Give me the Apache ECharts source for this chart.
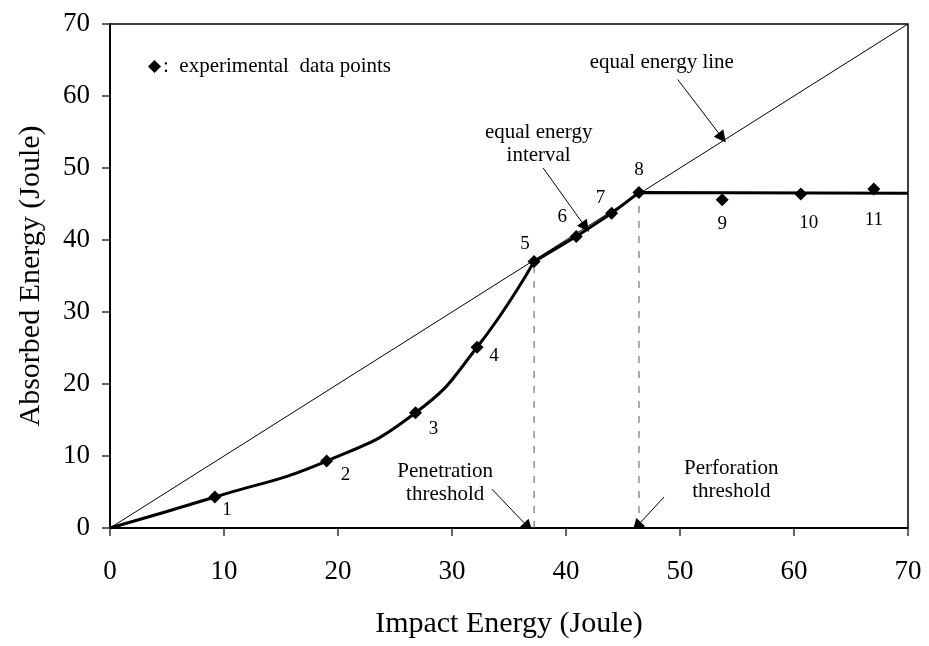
<!DOCTYPE html>
<html>
<head>
<meta charset="utf-8">
<script src="https://cdn.jsdelivr.net/npm/echarts@6/dist/echarts.min.js"></script>
<style>
  html, body { margin: 0; padding: 0; background: #fff; }
  #chart { width: 929px; height: 646px; }
</style>
</head>
<body>
<div id="chart"></div>
<script>
// Impact vs absorbed energy, specimens 1..11
const impactEnergy   = [9.2, 19.0, 26.8, 32.2, 37.2, 40.9, 44.0, 46.4, 53.7, 60.6, 67.0];
const absorbedEnergy = [4.3, 9.3, 16.0, 25.1, 37.0, 40.5, 43.7, 46.6, 45.6, 46.4, 47.1];
const specimenLabels = ['1', '2', '3', '4', '5', '6', '7', '8', '9', '10', '11'];

// absorbed energy level once the plate is perforated
const plateauEnergy = 46.5;
// index of the specimens at the penetration and perforation thresholds
const penetrationIndex = 4;
const perforationIndex = 7;

const axisMin = 0;
const axisMax = 70;
const axisStep = 10;

// text notes and their pointer arrows, in data units
const noteTexts = ['equal energy line', 'equal energy\ninterval', 'Penetration\nthreshold', 'Perforation\nthreshold'];
const notePositions = [[48.4, 64.7], [37.6, 53.4], [29.4, 6.3], [54.5, 6.6]];
const arrowStarts = [[49.8, 62.3], [38.0, 50.0], [33.5, 5.4], [48.6, 4.3]];
const arrowEnds   = [[53.7, 54.2], [41.7, 41.8], [36.7, 0.1], [46.2, 0.2]];

// label placement around each marker (pixels)
const labelOffsets = [[12, 13], [19, 14], [18, 16], [17, 9], [-9, -18], [-14, -19],
                      [-11, -15], [0, -22], [0, 24], [8, 29], [0, 31]];

const FONT = 'Liberation Serif';

const points = impactEnergy.map((x, i) => [x, absorbedEnergy[i]]);

// smooth rise up to penetration
const risingCurve = [[0, 0]].concat(points.slice(0, penetrationIndex + 1));
// straight run along the equal energy line, then flat plateau
const upperCurve = points.slice(penetrationIndex, perforationIndex + 1)
  .concat([[axisMax, plateauEnergy]]);

const dropLines = [penetrationIndex, perforationIndex].map(i => ({
  type: 'line',
  data: [[impactEnergy[i], 0], [impactEnergy[i], absorbedEnergy[i]]],
  symbol: 'none',
  silent: true,
  z: 2,
  lineStyle: { color: '#555', width: 1, type: [7, 8] }
}));

const chart = echarts.init(document.getElementById('chart'), null, { renderer: 'canvas' });

const axisCommon = {
  type: 'value',
  min: axisMin,
  max: axisMax,
  interval: axisStep,
  nameLocation: 'middle',
  nameTextStyle: { fontFamily: FONT, fontSize: 30, color: '#000' },
  axisLine: { onZero: false, lineStyle: { color: '#000', width: 2 } },
  axisTick: { show: true, inside: false, length: 8, lineStyle: { color: '#333', width: 1.5 } },
  splitLine: { show: false },
  axisLabel: { fontFamily: FONT, fontSize: 27, color: '#000' }
};

chart.setOption({
  animation: false,
  backgroundColor: '#fff',
  textStyle: { fontFamily: FONT },
  grid: {
    left: 110, right: 21, top: 24, bottom: 118,
    show: true, borderColor: '#000', borderWidth: 1.5, backgroundColor: 'transparent'
  },
  legend: {
    left: 143, top: 51,
    data: [{ name: 'experimental data points', icon: 'diamond' }],
    itemWidth: 13, itemHeight: 13, itemGap: 6,
    formatter: () => ':  experimental  data points',
    textStyle: { fontFamily: FONT, fontSize: 21, color: '#000', padding: [0, 0, 0, -3] },
    itemStyle: { color: '#000', opacity: 1 },
    selectedMode: false
  },
  xAxis: Object.assign({}, axisCommon, {
    name: 'Impact Energy (Joule)',
    nameGap: 81,
    axisLabel: Object.assign({}, axisCommon.axisLabel, { margin: 30 })
  }),
  yAxis: Object.assign({}, axisCommon, {
    name: 'Absorbed Energy (Joule)',
    nameGap: 64,
    axisLabel: Object.assign({}, axisCommon.axisLabel, { margin: 20 })
  }),
  series: [
    {
      name: 'equal energy line',
      type: 'line',
      data: [[axisMin, axisMin], [axisMax, axisMax]],
      symbol: 'none',
      silent: true,
      z: 1,
      lineStyle: { color: '#000', width: 1 }
    },
    ...dropLines,
    {
      name: 'rising curve',
      type: 'line',
      data: risingCurve,
      symbol: 'none',
      smooth: 0.5,
      z: 3,
      lineStyle: { color: '#000', width: 3 }
    },
    {
      name: 'upper curve',
      type: 'line',
      data: upperCurve,
      symbol: 'none',
      z: 3,
      lineStyle: { color: '#000', width: 3 }
    },
    {
      name: 'experimental data points',
      type: 'scatter',
      data: points.map((p, i) => ({
        value: p,
        name: specimenLabels[i],
        label: { offset: labelOffsets[i] }
      })),
      symbol: 'diamond',
      symbolSize: 13,
      z: 5,
      itemStyle: { color: '#000', opacity: 1 },
      label: {
        show: true,
        position: 'inside',
        formatter: '{b}',
        fontFamily: FONT,
        fontSize: 19,
        color: '#000',
        opacity: 1,
        align: 'center',
        verticalAlign: 'middle'
      }
    },
    {
      name: 'notes',
      type: 'scatter',
      data: notePositions.map((p, i) => ({ value: p, name: noteTexts[i] })),
      symbolSize: 0,
      silent: true,
      z: 6,
      itemStyle: { opacity: 1 },
      label: {
        show: true,
        position: 'inside',
        formatter: '{b}',
        fontFamily: FONT,
        fontSize: 21,
        lineHeight: 23,
        color: '#000',
        opacity: 1,
        align: 'center',
        verticalAlign: 'middle'
      }
    },
    {
      name: 'pointers',
      type: 'lines',
      coordinateSystem: 'cartesian2d',
      data: arrowStarts.map((s, i) => ({ coords: [s, arrowEnds[i]] })),
      symbol: ['none', 'triangle'],
      symbolSize: [5, 12],
      silent: true,
      z: 6,
      lineStyle: { color: '#000', width: 1, opacity: 1 },
      itemStyle: { color: '#000' }
    }
  ]
});
</script>
</body>
</html>
